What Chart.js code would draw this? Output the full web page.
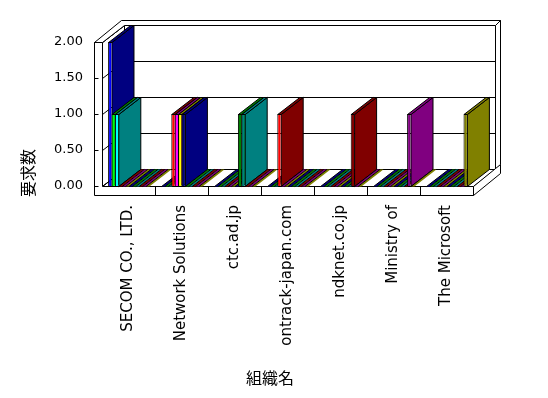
<!DOCTYPE html>
<html>
<head>
<meta charset="utf-8">
<script src="https://cdn.jsdelivr.net/npm/chart.js@4.4.1/dist/chart.umd.min.js"></script>
<style>
  html, body { margin: 0; padding: 0; background: #fff; }
  canvas { display: block; }
</style>
</head>
<body>
<canvas id="chart" width="548" height="398"></canvas>
<script>
const categories = ["SECOM CO., LTD.", "Network Solutions", "ctc.ad.jp", "ontrack-japan.com", "ndknet.co.jp", "Ministry of", "The Microsoft"];

// one array per series, in cluster order (no legend in the picture)
const series01 = [2, 0, 0, 0, 0, 0, 0];
const series02 = [1, 0, 0, 0, 0, 0, 0];
const series03 = [1, 0, 0, 0, 0, 0, 0];
const series04 = [0, 1, 0, 1, 0, 0, 0];
const series05 = [0, 1, 0, 0, 0, 0, 0];
const series06 = [0, 1, 0, 0, 0, 0, 0];
const series07 = [0, 1, 0, 0, 0, 0, 0];
const series08 = [0, 0, 1, 0, 0, 0, 0];
const series09 = [0, 0, 1, 0, 0, 0, 0];
const series10 = [0, 0, 0, 0, 1, 0, 0];
const series11 = [0, 0, 0, 0, 0, 1, 0];
const series12 = [0, 0, 0, 0, 0, 0, 1];
const allSeries = [series01, series02, series03, series04, series05, series06,
                   series07, series08, series09, series10, series11, series12];

const yTicks = [0, 0.5, 1, 1.5, 2];
const xTitle = "組織名";
const yTitle = "要求数";

// front colours and the darker shade used for tops and sides
const frontColors = ["#0000ff", "#00ff00", "#00ffff", "#ff0000", "#ff00ff", "#ffff00",
                     "#000080", "#008000", "#008080", "#800000", "#800080", "#808000"];
const shadeColors = ["#000080", "#008000", "#008080", "#800000", "#800080", "#808000",
                     "#000080", "#008000", "#008080", "#800000", "#800080", "#808000"];

const DX = 22, DY = 17;        // depth of the plot box
const BX = 5, BY = 5;          // thickness of back wall
const WALL = 8, FLOOR = 9;

function poly(ctx, pts, fill, stroke = true) {
  ctx.beginPath();
  pts.forEach(([px, py], i) => (i ? ctx.lineTo(px, py) : ctx.moveTo(px, py)));
  ctx.closePath();
  if (fill) {
    ctx.fillStyle = fill;
    ctx.fill();
  }
  if (stroke) ctx.stroke();
}

const box3d = {
  id: "box3d",
  beforeDatasetsDraw(chart) {
    const { ctx, chartArea: a, scales } = chart;
    const L = Math.round(a.left), R = Math.round(a.right);
    const T = Math.round(a.top), B = Math.round(a.bottom);
    ctx.save();
    ctx.translate(0.5, 0.5);
    ctx.lineWidth = 1;
    ctx.strokeStyle = "#000";

    // back wall, left wall inner face, floor
    poly(ctx, [[L + DX, T - DY], [R + DX, T - DY], [R + DX, B - DY], [L + DX, B - DY]], "#fff");
    poly(ctx, [[L, T], [L + DX, T - DY], [L + DX, B - DY], [L, B]], "#fff");
    poly(ctx, [[L, B], [R, B], [R + DX, B - DY], [L + DX, B - DY]], "#fff");

    yTicks.forEach((v) => {
      const py = Math.round(scales.y.getPixelForValue(v));
      ctx.beginPath();
      ctx.moveTo(L, py);
      ctx.lineTo(L + DX, py - DY);
      ctx.lineTo(R + DX, py - DY);
      ctx.stroke();
    });

    // wall tops and right faces
    poly(ctx, [[L - WALL, T], [L, T], [L + DX, T - DY], [R + DX, T - DY],
               [R + DX + BX, T - DY - BY], [L - WALL + DX + BX, T - DY - BY]], "#fff");
    poly(ctx, [[R + DX, T - DY], [R + DX + BX, T - DY - BY], [R + DX + BX, B - DY - BY], [R + DX, B - DY]], "#fff");
    poly(ctx, [[R, B], [R + DX + BX, B - DY - BY], [R + DX + BX, B + FLOOR - DY - BY], [R, B + FLOOR]], "#fff");

    // front faces of left wall and floor
    poly(ctx, [[L - WALL, T], [L, T], [L, B], [R, B], [R, B + FLOOR], [L - WALL, B + FLOOR]], "#fff");

    const n = categories.length;
    for (let i = 1; i < n; i++) {
      const px = Math.round((scales.x.getPixelForTick(i - 1) + scales.x.getPixelForTick(i)) / 2);
      ctx.beginPath();
      ctx.moveTo(px, B);
      ctx.lineTo(px, B + FLOOR);
      ctx.stroke();
    }
    yTicks.forEach((v) => {
      const py = Math.round(scales.y.getPixelForValue(v));
      ctx.beginPath();
      ctx.moveTo(L - WALL, py);
      ctx.lineTo(L - WALL + 4, py);
      ctx.stroke();
    });

    // tops and sides of the bars, left to right
    const bars = [];
    chart.data.datasets.forEach((ds, i) => {
      chart.getDatasetMeta(i).data.forEach((bar) => {
        const { x, y, base, width } = bar.getProps(["x", "y", "base", "width"], true);
        bars.push({ l: x - width / 2, r: x + width / 2, top: y, base, shade: shadeColors[i] });
      });
    });
    bars.sort((p, q) => p.l - q.l);
    bars.forEach((b) => {
      const tall = b.base - b.top > 0.5;
      if (tall) {
        poly(ctx, [[b.r, b.top], [b.r + DX, b.top - DY], [b.r + DX, b.base - DY], [b.r, b.base]], b.shade);
      }
      const topFace = [[b.l, b.top], [b.r, b.top], [b.r + DX, b.top - DY], [b.l + DX, b.top - DY]];
      poly(ctx, topFace, b.shade, tall);
      if (!tall) {
        ctx.beginPath();
        ctx.moveTo(b.l, b.top);
        ctx.lineTo(b.l + DX, b.top - DY);
        ctx.stroke();
      }
    });
    ctx.restore();
  },
  afterDraw(chart) {
    const { ctx } = chart;
    ctx.save();
    ctx.fillStyle = "#000";
    ctx.font = '16px "Noto Sans CJK JP"';
    ctx.textAlign = "center";
    ctx.textBaseline = "middle";
    ctx.fillText(xTitle, 270, 378);
    ctx.translate(28, 173);
    ctx.rotate(-Math.PI / 2);
    ctx.fillText(yTitle, 0, 0);
    ctx.restore();
  },
};

new Chart(document.getElementById("chart"), {
  type: "bar",
  data: {
    labels: categories,
    datasets: allSeries.map((values, i) => ({
      label: "series " + (i + 1),
      data: values,
      backgroundColor: frontColors[i],
      borderColor: "#000",
      borderWidth: { left: 1, top: 1, right: 0, bottom: 0 },
      borderSkipped: false,
      categoryPercentage: 0.77,
      barPercentage: 1,
    })),
  },
  options: {
    responsive: false,
    animation: false,
    layout: { padding: { left: 0, top: 42, right: 75, bottom: 0 } },
    plugins: { legend: { display: false }, tooltip: { enabled: false } },
    scales: {
      x: {
        grid: { display: false, drawTicks: false },
        border: { display: false },
        ticks: {
          color: "#000",
          font: { family: "DejaVu Sans", size: 15 },
          minRotation: 90,
          maxRotation: 90,
          autoSkip: false,
          padding: 19,
        },
        afterFit: (scale) => { scale.height = 212; },
      },
      y: {
        min: 0,
        max: 2,
        grid: { display: false, drawTicks: false },
        border: { display: false },
        ticks: {
          color: "#000",
          font: { family: "DejaVu Sans", size: 13 },
          stepSize: 0.5,
          padding: 19,
          callback: (v) => v.toFixed(2),
        },
        afterFit: (scale) => { scale.width = 102; },
      },
    },
  },
  plugins: [box3d],
});
</script>
</body>
</html>
